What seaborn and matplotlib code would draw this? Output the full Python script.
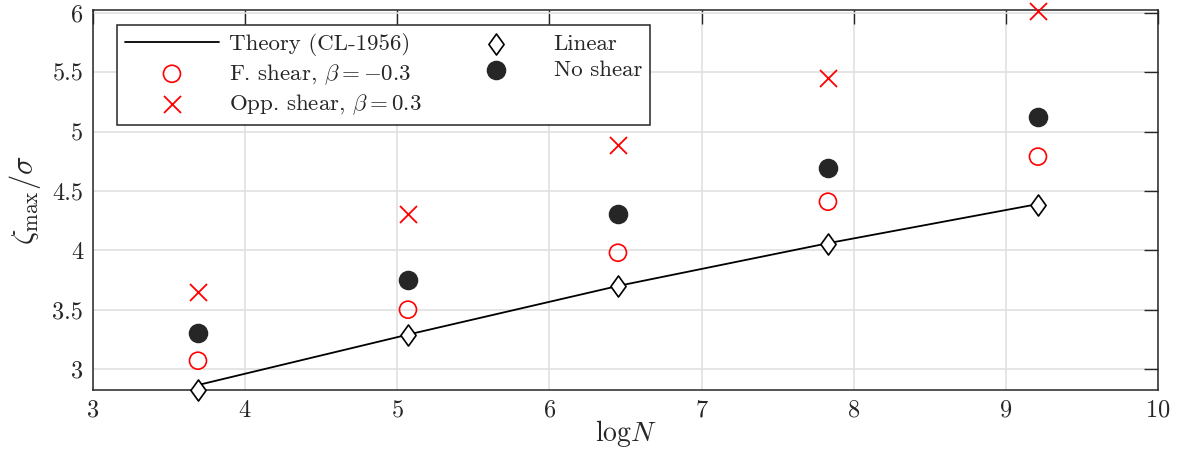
import numpy as np
import pandas as pd
import matplotlib
matplotlib.use('Agg')
import matplotlib.pyplot as plt
from matplotlib.path import Path
import seaborn as sns

# data
log_n = [3.69, 5.07, 6.45, 7.83, 9.21]
theory = [2.865, 3.29, 3.70, 4.06, 4.39]
linear = [2.82, 3.29, 3.70, 4.05, 4.38]
f_shear = [3.07, 3.50, 3.98, 4.41, 4.79]
opp_shear = [3.65, 4.31, 4.89, 5.45, 6.02]
no_shear = [3.30, 3.75, 4.31, 4.69, 5.12]

sns.set_style('whitegrid')
plt.rcParams['font.family'] = 'serif'
plt.rcParams['font.serif'] = ['cmr10', 'DejaVu Serif']
plt.rcParams['mathtext.fontset'] = 'cm'
plt.rcParams['axes.formatter.use_mathtext'] = True
plt.rcParams['axes.unicode_minus'] = False

# matlab style diamond (a bit wider than mpl 'd')
diamond = Path([(0, 1), (0.72, 0), (0, -1), (-0.72, 0), (0, 1)],
               [Path.MOVETO, Path.LINETO, Path.LINETO, Path.LINETO, Path.CLOSEPOLY])

fig = plt.figure(figsize=(11.77, 4.5), dpi=100)
ax = fig.add_axes([0.079, 0.1333, 0.905, 0.8444])

sns.lineplot(x=log_n, y=theory, color='black', lw=1.3, ax=ax, label='Theory (CL-1956)')
sns.scatterplot(x=log_n, y=f_shear, marker='o', s=150, facecolor='none', edgecolor='red',
                linewidth=1.2, ax=ax, label=r'F. shear, $\beta=-0.3$', zorder=3, clip_on=False)
sns.scatterplot(x=log_n, y=opp_shear, marker='x', s=150, color='red', linewidth=1.3,
                ax=ax, label=r'Opp. shear, $\beta=0.3$', zorder=3, clip_on=False)
sns.scatterplot(x=log_n, y=linear, marker=diamond, s=230, facecolor='white', edgecolor='black',
                linewidth=1.2, ax=ax, label='Linear', zorder=4, clip_on=False)
sns.scatterplot(x=log_n, y=no_shear, marker='o', s=170, color='#262626', edgecolor='#262626',
                ax=ax, label='No shear', zorder=3, clip_on=False)

ax.set_xlim(3, 10)
ax.set_ylim(2.823, 6.025)
ax.set_xticks(range(3, 11))
ax.set_yticks([3, 3.5, 4, 4.5, 5, 5.5, 6])
ax.set_yticklabels(['3', '3.5', '4', '4.5', '5', '5.5', '6'])
ax.set_xlabel(r'$\mathrm{log}N$', fontsize=20, labelpad=-3)
ax.set_ylabel(r'$\zeta_{\max}/\sigma$', fontsize=22, labelpad=7)
ax.tick_params(labelsize=17.5, direction='in', length=10, width=1, top=True, right=True,
               colors='#262626', labelcolor='#262626', pad=7)
ax.grid(True, color='#e0e0e0', lw=1.2)
for sp in ax.spines.values():
    sp.set_color('#262626')
    sp.set_linewidth(1.1)

leg = ax.legend(ncol=2, loc='upper left', bbox_to_anchor=(0.0225, 0.96), fontsize=16.5,
                frameon=True, fancybox=False, edgecolor='#262626', framealpha=1,
                handlelength=4.1, labelspacing=0.25, columnspacing=1.2,
                borderpad=0.35, handletextpad=0.45, borderaxespad=0)
leg.get_frame().set_linewidth(1.1)

fig.savefig('out.png', dpi=100)
